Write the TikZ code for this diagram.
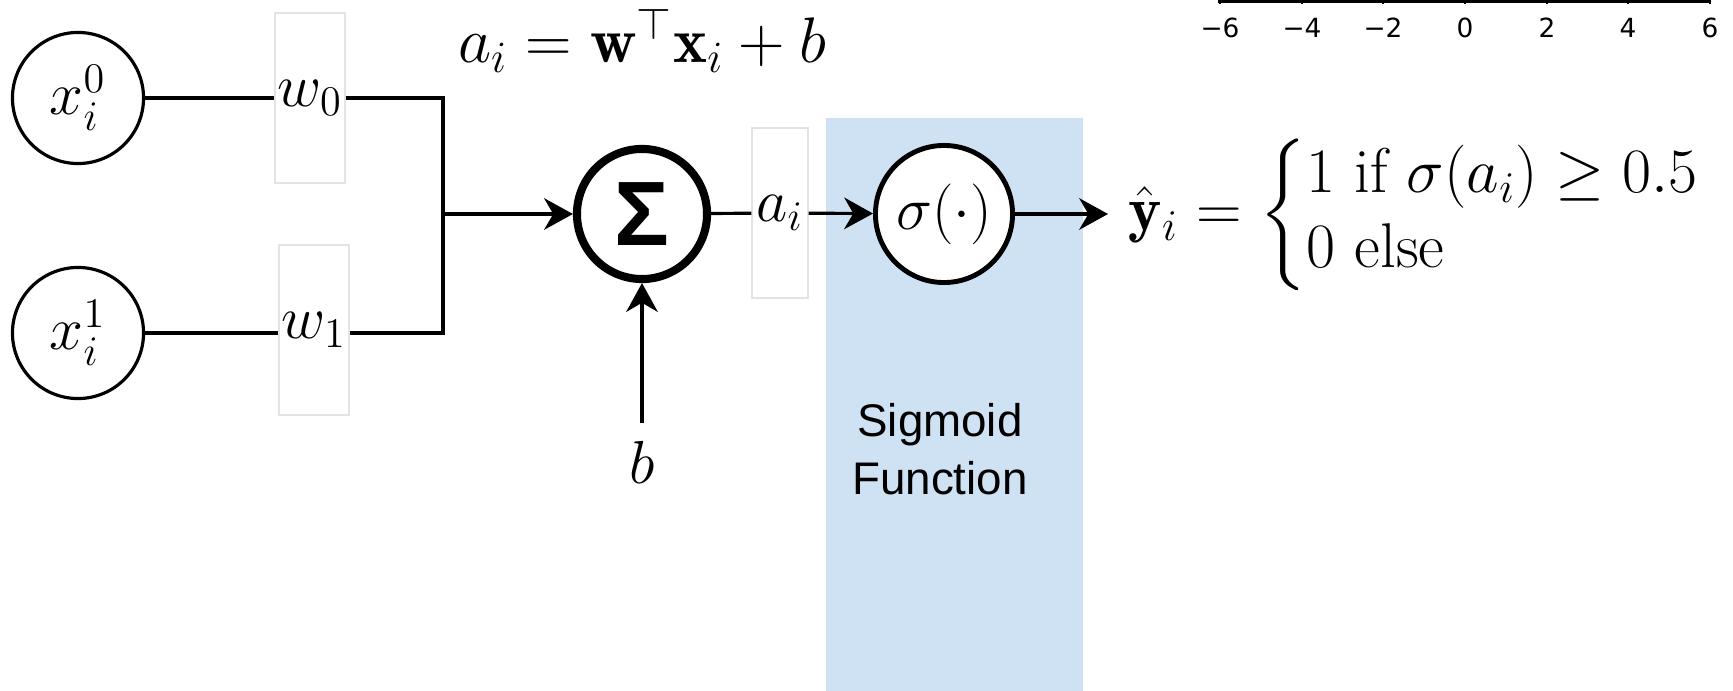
\documentclass[tikz,border=0pt]{standalone}
\usepackage{amsmath}
\usepackage{fontspec}
\newfontfamily\labelfont{Liberation Sans}
\newfontfamily\tickfont{DejaVu Sans}
\usetikzlibrary{arrows.meta,positioning}
\definecolor{sigbg}{HTML}{CFE2F3}
\definecolor{boxline}{HTML}{E3E3E3}
\definecolor{plotblue}{HTML}{2B2FA0}
\tikzset{
  >={Stealth[length=8.2pt,width=9pt,inset=2.6pt]},
  every node/.style={text=black},
  neuron/.style={circle,draw,line width=0.9pt,fill=white,inner sep=0pt,minimum size=1.31cm,font=\fontsize{17.28}{20}\selectfont},
  sumnode/.style={neuron,line width=2.3pt,minimum size=1.30cm},
  actnode/.style={neuron,line width=1.4pt,minimum size=1.37cm},
  weight/.style={draw=boxline,line width=0.4pt,fill=white,inner sep=0pt,minimum width=0.7cm,minimum height=1.7cm,font=\fontsize{17.28}{20}\selectfont},
  eqn/.style={font=\fontsize{17.28}{21}\selectfont,inner sep=0pt},
  panel/.style={fill=sigbg,inner sep=0pt,minimum width=2.57cm,minimum height=5.74cm},
  caption/.style={align=center,font=\labelfont\fontsize{13}{16.5}\selectfont},
  ticklabel/.style={font=\tickfont\fontsize{7.5}{9}\selectfont,inner sep=0pt},
  wire/.style={line width=0.9pt},
  arrow/.style={->,line width=0.9pt}
}

\begin{document}
\begin{tikzpicture}[x=0.01cm,y=-0.01cm]
  \useasboundingbox (0,0) rectangle (1733,691);
  % cut-off plot axis, top right
  \shade[left color=plotblue,right color=plotblue!15] (1220,0) rectangle (1290,1.5);
  \draw[line width=0.6pt] (1218,1.5) -- (1711,1.5);
  \foreach \v/\px [count=\i] in {−6/1220,−4/1302,−2/1383,0/1465,2/1547,4/1628,6/1710}{
    \draw[line width=0.5pt] (\px,0) -- (\px,4);
    \node[ticklabel] (tick\i) at (\px,28) {\v};
  }

  \node[panel,anchor=north west] (sigpanel) at (825,117) {};
  \node[caption] (sigcap) at (940,449) {Sigmoid\\Function};

  \node[neuron] (x0) at (78,98) {$x_i^0$};
  \node[neuron] (x1) at (78,333) {$x_i^1$};
  \node[weight] (w0) at (310,98) {$w_0$};
  \node[weight] (w1) at (314,330) {$w_1$};
  \coordinate (jn) at (443,214);

  \node[sumnode] (sum) at (642,214) {\labelfont\bfseries\fontsize{26}{28}\selectfont Σ};
  \node[eqn,anchor=base] (act) at (642,63) {\scalebox{1.06}{$a_i = \mathbf{w}^\top\mathbf{x}_i + b$}};
  \node[eqn,inner sep=5pt,below=1.4cm of sum] (bias) {$b$};
  \node[weight,minimum width=0.56cm] (ai) at (780,213) {$a_i$};
  \node[actnode] (sig) at (944,214) {$\sigma(\cdot)$};
  \coordinate (yend) at (1108,214);
  \node[eqn,anchor=base west] (yhat) at (1128,231)
    {\renewcommand{\arraystretch}{0.98}\scalebox{1.04}{$\hat{\mathbf{y}}_i = \left\{\begin{array}{@{}l@{}}1\text{ if }\sigma(a_i)\geq 0.5\\0\text{ else}\end{array}\right.$}};

  \draw[wire] (x0) -- (w0);
  \draw[wire] (x1) -- (x1 -| w1.west);
  \draw[wire] (w0) -| (jn) |- (w1.east |- x1);
  \draw[arrow] (jn) -- (sum);
  \draw[arrow] (bias) -- (sum);
  \draw[wire] (sum) -- (ai);
  \draw[arrow] (ai) -- (sig);
  \draw[arrow] (sig) -- (yend);
\end{tikzpicture}
\end{document}
